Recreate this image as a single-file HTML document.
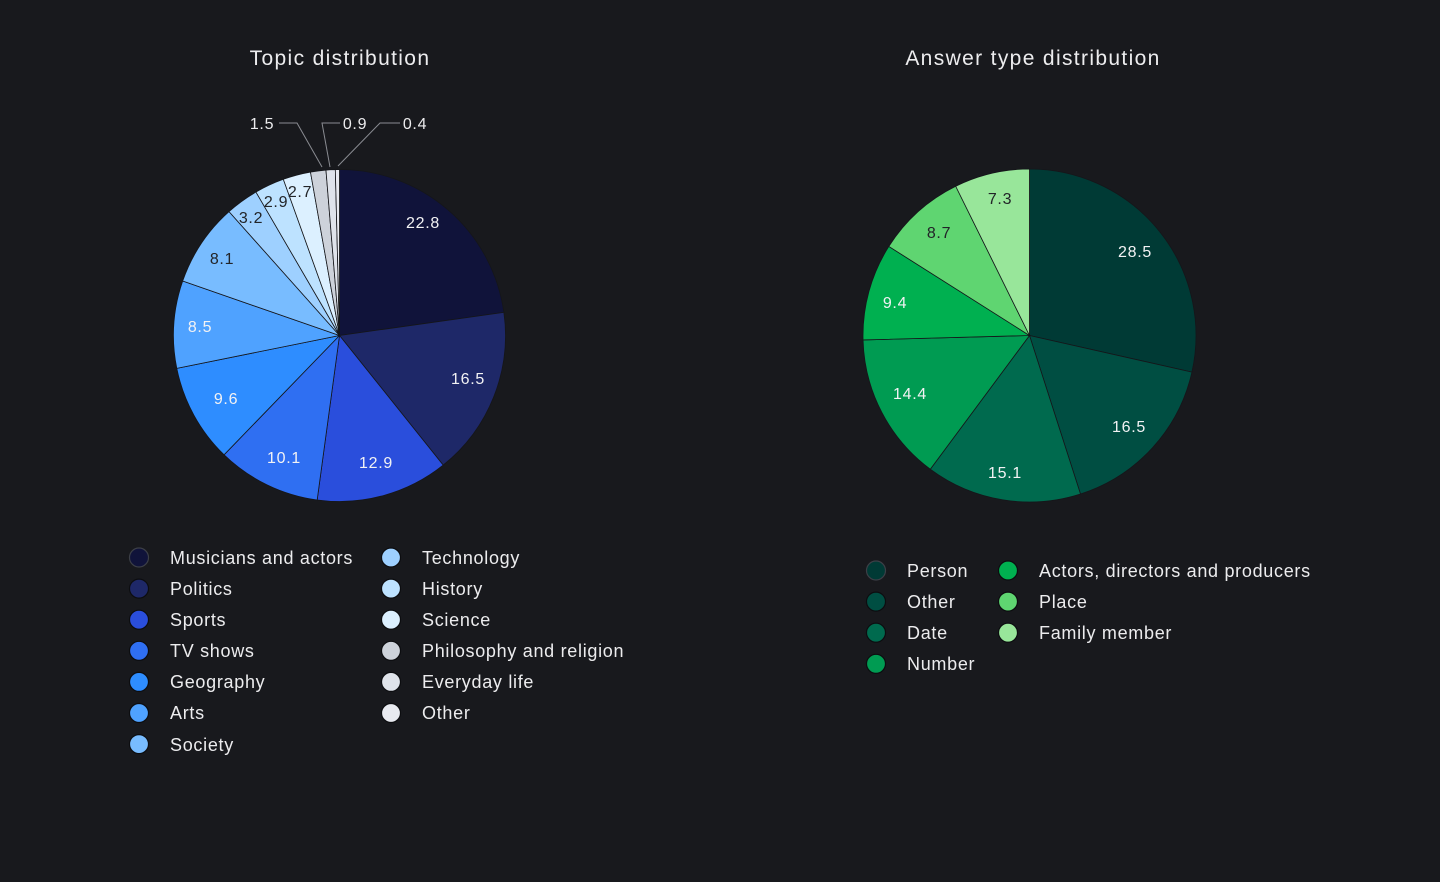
<!DOCTYPE html>
<html>
<head>
<meta charset="utf-8">
<style>
  html,body{margin:0;padding:0;background:#18191d;}
  body{width:1440px;height:882px;overflow:hidden;font-family:"Liberation Sans",sans-serif;}
  svg{display:block;}
  text{font-family:"Liberation Sans",sans-serif;}
  .title{letter-spacing:1.35px;}
  .leg{letter-spacing:0.7px;}
  .lab{letter-spacing:0.7px;}
</style>
</head>
<body>
<svg id="chart" width="1440" height="882" viewBox="0 0 1440 882" xmlns="http://www.w3.org/2000/svg">
  <rect x="0" y="0" width="1440" height="882" fill="#18191d"/>
  <text class="title" x="340" y="65" font-size="21" fill="#ececee" text-anchor="middle">Topic distribution</text>
  <text class="title" x="1033" y="65" font-size="21" fill="#ececee" text-anchor="middle">Answer type distribution</text>

  <g id="pieL"></g>
  <g id="pieR"></g>

  <!-- leader lines -->
  <g stroke="#8a8c92" stroke-width="1" fill="none">
    <polyline points="279,123 297,123 322,167"/>
    <polyline points="340,123 322,123 330,167"/>
    <polyline points="400,123 380,123 338,166"/>
  </g>
  <g class="lab" font-size="16" fill="#ececee">
    <text x="262" y="129" text-anchor="middle">1.5</text>
    <text x="355" y="129" text-anchor="middle">0.9</text>
    <text x="415" y="129" text-anchor="middle">0.4</text>
  </g>

  <!-- left pie labels -->
  <g class="lab" font-size="16" text-anchor="middle">
    <text x="423" y="228" fill="#f2f2f4">22.8</text>
    <text x="468" y="384" fill="#f2f2f4">16.5</text>
    <text x="376" y="468" fill="#f2f2f4">12.9</text>
    <text x="284" y="463" fill="#f2f2f4">10.1</text>
    <text x="226" y="404" fill="#f2f2f4">9.6</text>
    <text x="200" y="332" fill="#f2f2f4">8.5</text>
    <text x="222" y="264" fill="#222428">8.1</text>
    <text x="251" y="223" fill="#222428">3.2</text>
    <text x="276" y="207" fill="#222428">2.9</text>
    <text x="300" y="197" fill="#222428">2.7</text>
  </g>

  <!-- right pie labels -->
  <g class="lab" font-size="16" text-anchor="middle">
    <text x="1135" y="257" fill="#f2f2f4">28.5</text>
    <text x="1129" y="432" fill="#f2f2f4">16.5</text>
    <text x="1005" y="478" fill="#f2f2f4">15.1</text>
    <text x="910" y="399" fill="#f2f2f4">14.4</text>
    <text x="895" y="308" fill="#f2f2f4">9.4</text>
    <text x="939" y="238" fill="#222428">8.7</text>
    <text x="1000" y="204" fill="#222428">7.3</text>
  </g>

  <!-- left legend -->
  <g stroke="#0c0d10" stroke-width="1.2">
    <circle cx="139" cy="557.5" r="9.5" fill="#10133a" stroke="#3c3f47"/>
    <circle cx="139" cy="588.6" r="9.5" fill="#1e2868"/>
    <circle cx="139" cy="619.7" r="9.5" fill="#2a4edc"/>
    <circle cx="139" cy="650.8" r="9.5" fill="#2f6ff2"/>
    <circle cx="139" cy="681.9" r="9.5" fill="#2e8dff"/>
    <circle cx="139" cy="713.0" r="9.5" fill="#4fa2ff"/>
    <circle cx="139" cy="744.1" r="9.5" fill="#78bcff"/>
    <circle cx="391" cy="557.5" r="9.5" fill="#9ed0ff"/>
    <circle cx="391" cy="588.6" r="9.5" fill="#bde2ff"/>
    <circle cx="391" cy="619.7" r="9.5" fill="#dcf0ff"/>
    <circle cx="391" cy="650.8" r="9.5" fill="#cdd2da"/>
    <circle cx="391" cy="681.9" r="9.5" fill="#dfe3ea"/>
    <circle cx="391" cy="713.0" r="9.5" fill="#e8eaf0"/>
  </g>
  <g class="leg" font-size="18" fill="#ececee">
    <text x="170" y="564">Musicians and actors</text>
    <text x="170" y="595">Politics</text>
    <text x="170" y="626">Sports</text>
    <text x="170" y="657">TV shows</text>
    <text x="170" y="688">Geography</text>
    <text x="170" y="719">Arts</text>
    <text x="170" y="751">Society</text>
    <text x="422" y="564">Technology</text>
    <text x="422" y="595">History</text>
    <text x="422" y="626">Science</text>
    <text x="422" y="657">Philosophy and religion</text>
    <text x="422" y="688">Everyday life</text>
    <text x="422" y="719">Other</text>
  </g>

  <!-- right legend -->
  <g stroke="#0c0d10" stroke-width="1.2">
    <circle cx="876" cy="570.5" r="9.5" fill="#003a35" stroke="#3c3f47"/>
    <circle cx="876" cy="601.6" r="9.5" fill="#004e42"/>
    <circle cx="876" cy="632.7" r="9.5" fill="#006a4e"/>
    <circle cx="876" cy="663.8" r="9.5" fill="#009b52"/>
    <circle cx="1008" cy="570.5" r="9.5" fill="#00b050"/>
    <circle cx="1008" cy="601.6" r="9.5" fill="#5fd571"/>
    <circle cx="1008" cy="632.7" r="9.5" fill="#98e69a"/>
  </g>
  <g class="leg" font-size="18" fill="#ececee">
    <text x="907" y="577">Person</text>
    <text x="907" y="608">Other</text>
    <text x="907" y="639">Date</text>
    <text x="907" y="670">Number</text>
    <text x="1039" y="577">Actors, directors and producers</text>
    <text x="1039" y="608">Place</text>
    <text x="1039" y="639">Family member</text>
  </g>
</svg>
<script>
(function(){
  var NS="http://www.w3.org/2000/svg";
  function pie(gid,cx,cy,r,vals,cols){
    var g=document.getElementById(gid);
    var tot=vals.reduce(function(a,b){return a+b;},0);
    var a0=0;
    for(var i=0;i<vals.length;i++){
      var a1=a0+vals[i]/tot*Math.PI*2;
      var x0=cx+r*Math.sin(a0), y0=cy-r*Math.cos(a0);
      var x1=cx+r*Math.sin(a1), y1=cy-r*Math.cos(a1);
      var large=(a1-a0)>Math.PI?1:0;
      var p=document.createElementNS(NS,"path");
      p.setAttribute("d","M"+cx+","+cy+" L"+x0.toFixed(2)+","+y0.toFixed(2)+" A"+r+","+r+" 0 "+large+" 1 "+x1.toFixed(2)+","+y1.toFixed(2)+" Z");
      p.setAttribute("fill",cols[i]);
      p.setAttribute("stroke","#15161a");
      p.setAttribute("stroke-width","0.8");
      p.setAttribute("stroke-linejoin","round");
      g.appendChild(p);
      a0=a1;
    }
  }
  pie("pieL",339.5,335.5,166,
    [22.8,16.5,12.9,10.1,9.6,8.5,8.1,3.2,2.9,2.7,1.5,0.9,0.4],
    ["#10133a","#1e2868","#2a4edc","#2f6ff2","#2e8dff","#4fa2ff","#78bcff","#9ed0ff","#bde2ff","#dcf0ff","#cdd2da","#dfe3ea","#e8eaf0"]);
  pie("pieR",1029.5,335.5,166.5,
    [28.5,16.5,15.1,14.4,9.4,8.7,7.3],
    ["#003a35","#004e42","#006a4e","#009b52","#00b050","#5fd571","#98e69a"]);
})();
</script>
</body>
</html>
